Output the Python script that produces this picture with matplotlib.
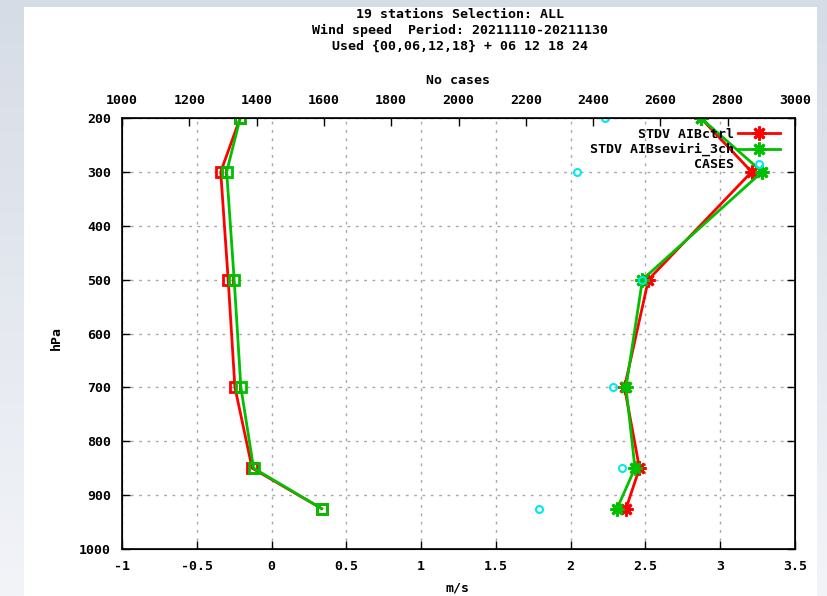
#!/usr/bin/env python3
"""
Wind speed profile : bias / STDV of AIBctrl and AIBseviri_3ch + number of cases
"""
import numpy as np
import matplotlib
matplotlib.use("Agg")
import matplotlib.pyplot as plt
from matplotlib.patches import Rectangle

# levels (hPa)
levels = [200, 300, 500, 700, 850, 925]

# bias (m/s)
bias_ctrl = [-0.21, -0.34, -0.29, -0.245, -0.13, 0.335]
bias_seviri = [-0.21, -0.30, -0.25, -0.205, -0.12, 0.335]

# standard deviation (m/s)
stdv_ctrl = [2.87, 3.21, 2.52, 2.36, 2.46, 2.37]
stdv_seviri = [2.87, 3.28, 2.48, 2.37, 2.43, 2.31]

# number of cases
cases = [2435, 2353, 2545, 2459, 2486, 2239]

title_lines = ["19 stations Selection: ALL",
               "Wind speed  Period: 20211110-20211130",
               "Used {00,06,12,18} + 06 12 18 24"]

x_ticks = [-1, -0.5, 0, 0.5, 1, 1.5, 2, 2.5, 3, 3.5]
x_labels = ["-1", "-0.5", "0", "0.5", "1", "1.5", "2", "2.5", "3", "3.5"]
x2_ticks = list(range(1000, 3001, 200))
y_ticks = list(range(200, 1001, 100))

RED = "#ff0000"
GREEN = "#00c000"
CYAN = "#00e8f0"
FONT = dict(family="DejaVu Sans Mono", weight="bold", size=9.5)

W, H = 827, 596


def fx(px):
    return px / W


def fy(py):
    return 1 - py / H


fig = plt.figure(figsize=(8.27, 5.96), dpi=100)

# fond degrade + panneau blanc
bg = fig.add_axes([0, 0, 1, 1], zorder=-10)
grad = np.linspace(0, 1, 256).reshape(-1, 1)
bg.imshow(grad, aspect="auto", cmap=matplotlib.colors.LinearSegmentedColormap.from_list(
    "bg", ["#d6dce6", "#e4e8ef", "#f2f4f8"]), extent=[0, 1, 0, 1])
bg.axis("off")
bg.add_patch(Rectangle((fx(24), 0), fx(817 - 24), fy(7), transform=bg.transAxes,
                       facecolor="white", edgecolor="none"))

ax = fig.add_axes([fx(122), fy(549), fx(795 - 122), fy(118) - fy(549)])
ax.set_xlim(-1, 3.5)
ax.set_ylim(1000, 200)
ax.set_xticks(x_ticks)
ax.set_xticklabels(x_labels)
ax.set_yticks(y_ticks)
ax.grid(True, color="#a8a8a8", linestyle=(0, (2, 4)), linewidth=1)
ax.tick_params(direction="in", length=6, width=1, top=True, right=True, labelsize=9.5)
for lab in ax.get_xticklabels() + ax.get_yticklabels():
    lab.set_fontproperties(matplotlib.font_manager.FontProperties(**FONT))
ax.tick_params(axis="x", pad=8)
ax.tick_params(axis="y", pad=8)
for sp in ax.spines.values():
    sp.set_linewidth(1.2)

sq = dict(marker="s", markersize=7, markerfacecolor="none", markeredgewidth=2, linewidth=2)
ast = dict(marker=(8, 2, 0), markersize=10, markeredgewidth=2, linewidth=2)

ax.plot(bias_ctrl, levels, color=RED, **sq)
ax.plot(bias_seviri, levels, color=GREEN, **sq)
l1, = ax.plot(stdv_ctrl, levels, color=RED, label="STDV AIBctrl", **ast)
l2, = ax.plot(stdv_seviri, levels, color=GREEN, label="STDV AIBseviri_3ch", **ast)

ax2 = ax.twiny()
ax2.set_xlim(1000, 3000)
ax2.set_xticks(x2_ticks)
ax2.tick_params(direction="in", length=6, width=1, pad=8)
for lab in ax2.get_xticklabels():
    lab.set_fontproperties(matplotlib.font_manager.FontProperties(**FONT))
l3, = ax2.plot(cases, levels, linestyle="none", marker="o", markersize=5,
               markerfacecolor="none", markeredgecolor=CYAN, markeredgewidth=1.5,
               label="CASES")
ax2.set_ylim(1000, 200)

leg = ax2.legend(handles=[l1, l2, l3], loc="upper right", frameon=False,
                 markerfirst=False, prop=matplotlib.font_manager.FontProperties(**FONT),
                 handlelength=3.2, handletextpad=0.3, labelspacing=0.15,
                 borderaxespad=0.2, bbox_to_anchor=(0.99, 0.995))
for t in leg.get_texts():
    t.set_ha("right")

# textes
for i, line in enumerate(title_lines):
    fig.text(fx(460), fy(14 + 16 * i), line, ha="center", va="center", **FONT)
fig.text(fx(458), fy(80), "No cases", ha="center", va="center", **FONT)
fig.text(fx(458), fy(588), "m/s", ha="center", va="center", **FONT)
fig.text(fx(56), fy(338), "hPa", ha="center", va="center", rotation=90, **FONT)

fig.savefig("out.png", dpi=100)
